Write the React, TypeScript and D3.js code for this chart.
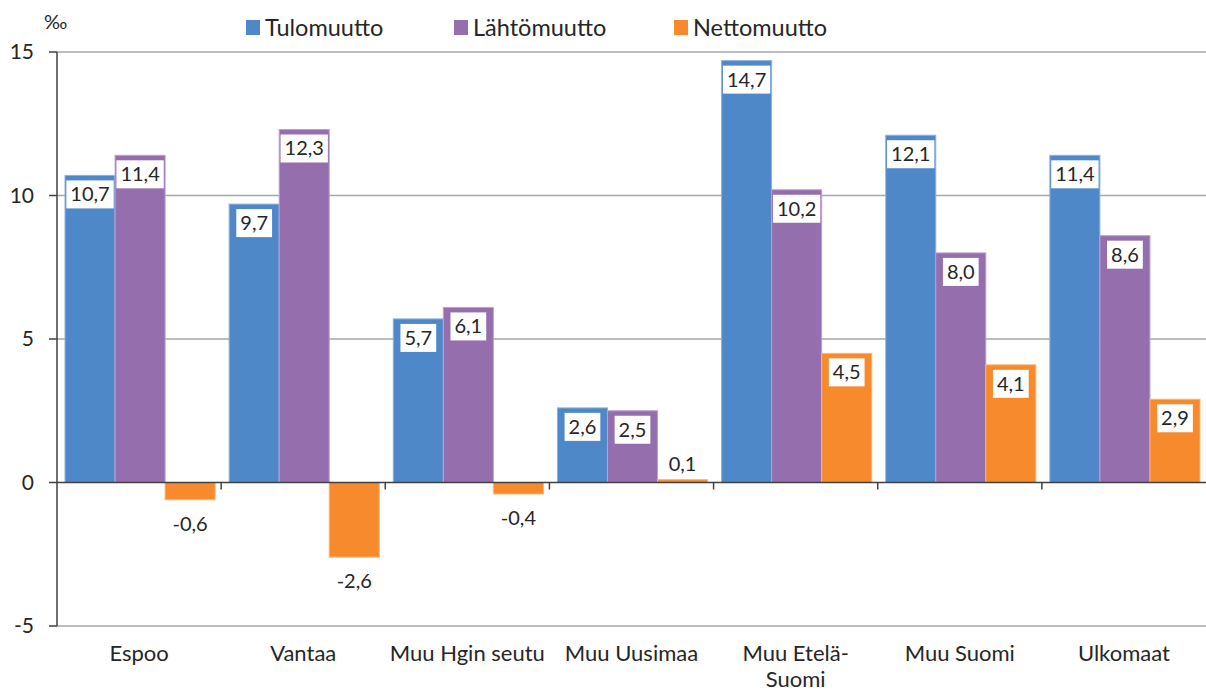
import React, { useEffect, useRef } from 'react';
import * as d3 from 'd3';

const categories = ['Espoo', 'Vantaa', 'Muu Hgin seutu', 'Muu Uusimaa', 'Muu Etelä-\nSuomi', 'Muu Suomi', 'Ulkomaat'];
const seriesNames = ['Tulomuutto', 'Lähtömuutto', 'Nettomuutto'];
const tulomuutto = [10.7, 9.7, 5.7, 2.6, 14.7, 12.1, 11.4];
const lahtomuutto = [11.4, 12.3, 6.1, 2.5, 10.2, 8.0, 8.6];
const nettomuutto = [-0.6, -2.6, -0.4, 0.1, 4.5, 4.1, 2.9];
const yTicks = [-5, 0, 5, 10, 15];

const colors = ['#4F88C8', '#956EAE', '#F68A2C'];
const strokes = ['#8DB2DE', '#BBA2CE', '#F9B57A'];
const font = 'Lato, "Open Sans", sans-serif';
const textColor = '#262626';

function Chart() {
  const ref = useRef<SVGSVGElement>(null);

  function drawChart() {
    const left = 57, right = 1206, top = 52, bottom = 626;

    const svg = d3.select(ref.current);
    svg.selectAll('*').remove();

    const x0 = d3.scaleBand<number>()
      .domain(d3.range(categories.length))
      .range([left, right])
      .padding(0);

    const x1 = d3.scaleBand<number>()
      .domain(d3.range(seriesNames.length))
      .range([8, x0.bandwidth() - 6])
      .padding(0);

    const y = d3.scaleLinear()
      .domain([-5, 15])
      .range([bottom, top]);

    const fmt = (v: number) => d3.format('.1f')(v).replace('.', ',').replace('\u2212', '-');

    // gridlines
    svg.append('g')
      .selectAll('line')
      .data([-5, 5, 10, 15])
      .join('line')
      .attr('x1', left).attr('x2', right)
      .attr('y1', d => y(d)).attr('y2', d => y(d))
      .attr('stroke', '#A6A6A6')
      .attr('stroke-width', 1.5);

    // bars
    const data = [tulomuutto, lahtomuutto, nettomuutto];
    const groups = svg.append('g')
      .selectAll('g')
      .data(categories)
      .join('g')
      .attr('transform', (d, i) => `translate(${x0(i)},0)`);

    groups.selectAll('rect')
      .data((d, i) => data.map((s, k) => ({ k, v: s[i] })))
      .join('rect')
      .attr('x', d => x1(d.k)!)
      .attr('width', x1.bandwidth())
      .attr('y', d => y(Math.max(0, d.v)))
      .attr('height', d => Math.abs(y(d.v) - y(0)))
      .attr('fill', d => colors[d.k])
      .attr('stroke', d => strokes[d.k])
      .attr('stroke-width', 1);

    // axes
    svg.append('line')
      .attr('x1', left).attr('x2', left)
      .attr('y1', top).attr('y2', bottom)
      .attr('stroke', '#404040').attr('stroke-width', 1.5);

    svg.append('line')
      .attr('x1', left).attr('x2', right)
      .attr('y1', y(0)).attr('y2', y(0))
      .attr('stroke', '#404040').attr('stroke-width', 1.5);

    svg.append('g')
      .selectAll('line')
      .data(yTicks)
      .join('line')
      .attr('x1', left - 8).attr('x2', left)
      .attr('y1', d => y(d)).attr('y2', d => y(d))
      .attr('stroke', '#404040').attr('stroke-width', 1.5);

    svg.append('g')
      .selectAll('line')
      .data(d3.range(1, categories.length))
      .join('line')
      .attr('x1', i => x0(i)!).attr('x2', i => x0(i)!)
      .attr('y1', y(0)).attr('y2', y(0) + 7)
      .attr('stroke', '#404040').attr('stroke-width', 1.5);

    svg.append('g')
      .selectAll('text')
      .data(yTicks)
      .join('text')
      .attr('x', 34)
      .attr('y', d => y(d))
      .attr('dy', '0.35em')
      .attr('text-anchor', 'end')
      .attr('font-family', font)
      .attr('font-size', 21)
      .attr('fill', textColor)
      .text(d => d);

    svg.append('text')
      .attr('x', 44).attr('y', 29)
      .attr('font-family', font).attr('font-size', 20)
      .attr('fill', textColor)
      .text('‰');

    // category labels
    svg.append('g')
      .selectAll('text')
      .data(categories)
      .join('text')
      .attr('x', (d, i) => x0(i)! + x0.bandwidth() / 2)
      .attr('y', 661)
      .attr('text-anchor', 'middle')
      .attr('font-family', font)
      .attr('font-size', 22)
      .attr('fill', textColor)
      .each(function (d) {
        const lines = d.split('\n');
        lines.forEach((l, j) => {
          d3.select(this).append('tspan')
            .attr('x', d3.select(this).attr('x'))
            .attr('dy', j === 0 ? 0 : 26)
            .text(l);
        });
      });

    // data labels
    const labels = groups.selectAll('g.lbl')
      .data((d, i) => data.map((s, k) => ({ k, v: s[i] })))
      .join('g')
      .attr('class', 'lbl');

    labels.each(function (d) {
      const g = d3.select(this);
      const cx = x1(d.k)! + x1.bandwidth() / 2;
      const bh = 28;
      let by: number;
      if (d.v >= 1) by = y(d.v) + 5;
      else if (d.v >= 0) by = y(d.v) - bh - 2;
      else by = y(d.v) + 10;
      const rect = g.append('rect').attr('fill', 'white');
      const t = g.append('text')
        .attr('x', cx)
        .attr('y', by + bh / 2)
        .attr('dy', '0.35em')
        .attr('text-anchor', 'middle')
        .attr('font-family', font)
        .attr('font-size', 20)
        .attr('fill', textColor)
        .text(fmt(d.v));
      const w = (t.node() as SVGTextElement).getComputedTextLength() + 8;
      rect.attr('x', cx - w / 2).attr('y', by).attr('width', w).attr('height', bh);
    });

    // legend
    const legendX = [246, 454, 674];
    const legend = svg.append('g')
      .selectAll('g')
      .data(seriesNames)
      .join('g')
      .attr('transform', (d, i) => `translate(${legendX[i]},20)`);
    legend.append('rect')
      .attr('width', 14).attr('height', 15)
      .attr('fill', (d, i) => colors[i]);
    legend.append('text')
      .attr('x', 19).attr('y', 7.5)
      .attr('dy', '0.35em')
      .attr('font-family', font).attr('font-size', 23.5)
      .attr('fill', textColor)
      .text(d => d);
  }

  useEffect(() => {
    drawChart();
  }, []);

  return (
    <svg ref={ref} width={1206} height={691}
      style={{ position: 'absolute', left: 0, top: 0, background: 'white' }} />
  );
}

export default function App() {
  return <Chart />;
}
